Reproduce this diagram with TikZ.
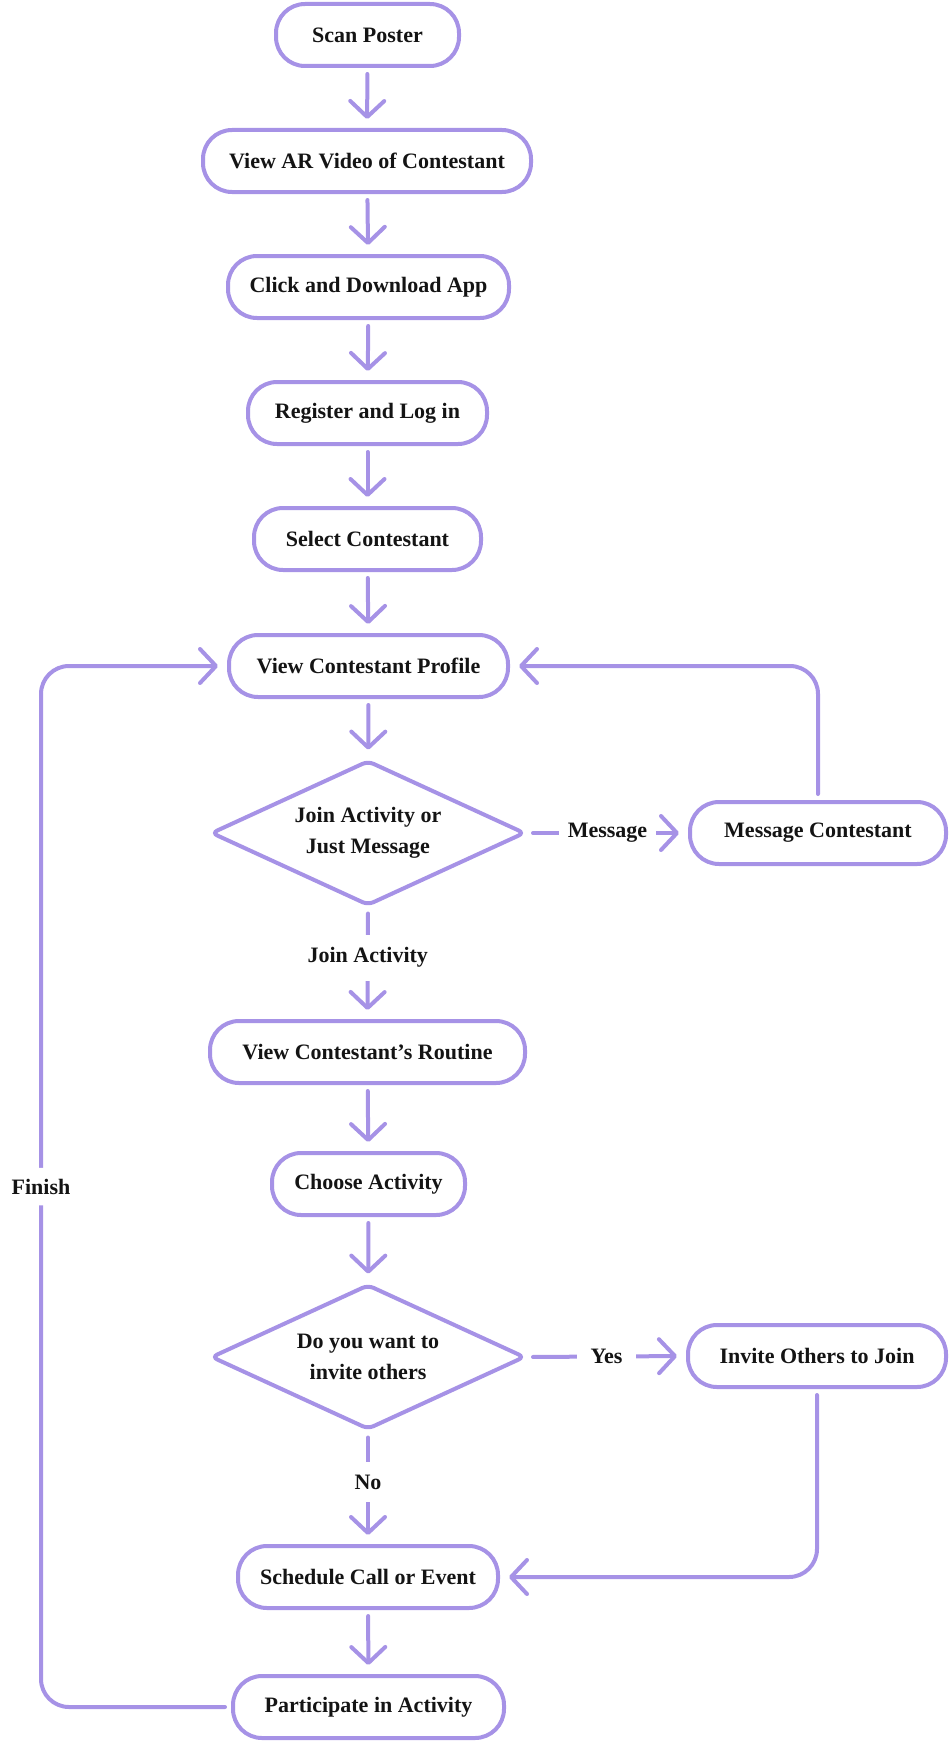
\documentclass[tikz,border=0pt]{standalone}
\usepackage{fontspec}
\setmainfont{Liberation Serif}
\usetikzlibrary{arrows.meta,shapes.geometric}
\definecolor{lav}{RGB}{166,146,230}
\definecolor{txt}{RGB}{20,20,20}
\begin{document}
\begin{tikzpicture}[x=1pt,y=-1pt,
  lblfont/.style={font=\fontsize{22}{31}\selectfont\bfseries, text=txt},
  box/.style={lblfont, draw=lav, line width=4pt, rounded corners=29pt, fill=white,
    minimum height=62pt, inner sep=0pt},
  dia/.style={lblfont, diamond, shape aspect=2.166, draw=lav, line width=4pt, rounded corners=6pt, fill=white,
    inner sep=0pt, align=center, minimum width=314pt, minimum height=145pt},
  arr/.style={draw=lav, line width=4pt, line cap=round,
    -{Straight Barb[length=16pt,width=34pt,round]}, shorten <=6pt, shorten >=9pt},
  lbl/.style={lblfont, fill=white, inner xsep=10pt, inner ysep=13pt}
]
\useasboundingbox (0,0) rectangle (950,1742);
\node[box, minimum width=183pt] (scan) at (367.5,35) {Scan Poster};
\node[box, minimum width=328pt] (view) at (367,161) {View AR Video of Contestant};
\node[box, minimum width=281pt] (click) at (368.5,287) {Click and Download App};
\node[box, minimum width=239pt] (reg) at (367.5,413) {Register and Log in};
\node[box, minimum width=227pt] (sel) at (367.5,539) {Select Contestant};
\node[box, minimum width=279pt] (prof) at (368.5,666) {View Contestant Profile};
\node[dia] (d1) at (368,833) {Join Activity or\\Just Message};
\node[box, minimum width=256pt] (msg) at (818,833) {Message Contestant};
\node[box, minimum width=315pt] (rout) at (367.5,1052) {View Contestant’s Routine};
\node[box, minimum width=193pt] (choose) at (368.5,1184) {Choose Activity};
\node[dia] (d2) at (368,1357) {Do you want to\\invite others};
\node[box, minimum width=258pt] (inv) at (817,1356) {Invite Others to Join};
\node[box, minimum width=260pt] (sched) at (368,1577) {Schedule Call or Event};
\node[box, minimum width=271pt] (part) at (368.5,1707) {Participate in Activity};
\coordinate (lx) at (41,0);

\draw[arr] (scan) -- (view);
\draw[arr] (view) -- (click);
\draw[arr] (click) -- (reg);
\draw[arr] (reg) -- (sel);
\draw[arr] (sel) -- (prof);
\draw[arr] (prof) -- (d1);
\draw[arr] (d1.east) -- node[lbl, inner xsep=9pt] {Message} (msg.west);
\draw[arr] (d1.south) -- node[lbl, pos=0.45] {Join Activity} (rout.north);
\draw[arr, rounded corners=28pt] (msg.north) |- (prof.east);
\draw[arr] (rout) -- (choose);
\draw[arr] (choose) -- (d2);
\draw[arr] (d2.east) -- node[lbl, inner xsep=14pt] {Yes} (inv.west);
\draw[arr] (d2.south) -- node[lbl, pos=0.45] {No} (sched.north);
\draw[arr, rounded corners=28pt] (inv.south) |- (sched.east);
\draw[arr] (sched) -- (part);
\draw[arr, rounded corners=28pt] (part.west) -- (part.west -| lx)
  -- node[lbl, inner ysep=11pt] {Finish} (prof.west -| lx) -- (prof.west);
\end{tikzpicture}
\end{document}
